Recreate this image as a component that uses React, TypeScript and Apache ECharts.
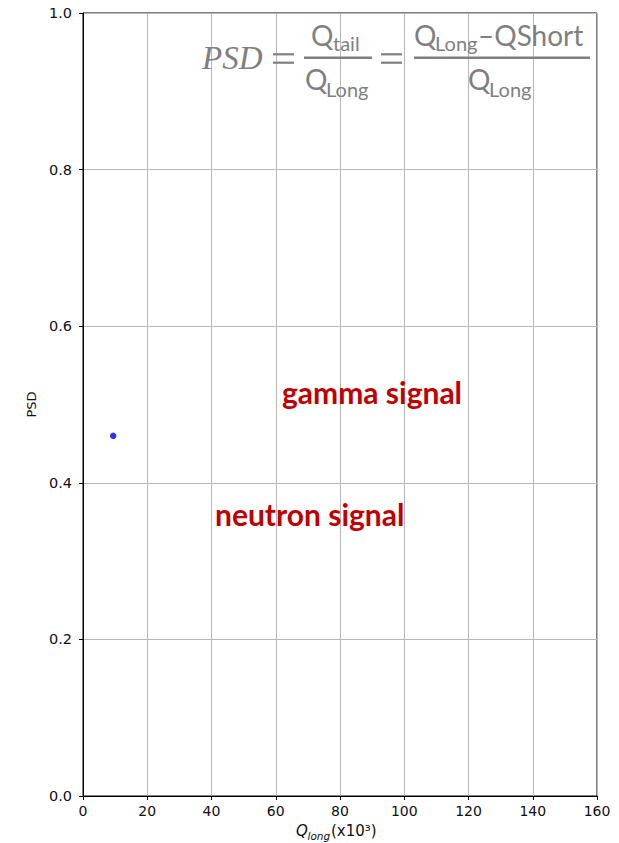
import React, { useEffect, useRef } from "react";
import * as echarts from "echarts";

// ---- data ----
const xRange = [0, 160];
const xStep = 20;
const yRange = [0, 1.0];
const yStep = 0.2;
const pointX = [9.4];
const pointY = [0.46];
const xAxisName = ["Q", "long", "(x10³)"];
const yAxisName = "PSD";
const regionLabels = ["gamma signal", "neutron signal"];
const formulaParts = ["PSD", "Q", "tail", "Long", "–QShort"];

const GRAY = "#7f7f7f";
const RED = "#c00000";
const QF = "Lato";

export default function App() {
  const ref = useRef<HTMLDivElement>(null);
  useEffect(() => {
    document.body.style.margin = "0";
    if (!ref.current) return;
    const chart = echarts.init(ref.current, null, { renderer: "svg" });
    const qText = (text: string, x: number, y: number, size: number) => ({
      type: "text",
      x,
      y,
      z: 10,
      style: {
        text,
        fontFamily: QF,
        fontSize: size,
        fill: GRAY,
        align: "left",
        verticalAlign: "middle",
      },
    });
    const hline = (x1: number, x2: number, y: number, w: number) => ({
      type: "line",
      z: 10,
      shape: { x1, y1: y, x2, y2: y },
      style: { stroke: GRAY, lineWidth: w },
    });
    const QS = 28;
    const SS = 20;
    const numY = 34.6;
    const numSubY = 43.3;
    const denY = 78.6;
    const denSubY = 89;
    chart.setOption({
      animation: false,
      grid: {
        left: 83,
        right: 22,
        top: 13,
        bottom: 47,
        show: true,
        borderColor: "#000",
        borderWidth: 1,
        backgroundColor: "#fff",
      },
      xAxis: {
        type: "value",
        min: xRange[0],
        max: xRange[1],
        interval: xStep,
        axisLine: { show: true, lineStyle: { color: "#000", width: 1 } },
        axisTick: { show: true, length: 4, lineStyle: { color: "#000" } },
        axisLabel: {
          color: "#111",
          fontFamily: "DejaVu Sans",
          fontSize: 14,
          margin: 8,
        },
        splitLine: { show: true, lineStyle: { color: "#b8b8b8", width: 1 } },
      },
      yAxis: {
        type: "value",
        min: yRange[0],
        max: yRange[1],
        interval: yStep,
        name: yAxisName,
        nameLocation: "middle",
        nameGap: 44,
        nameTextStyle: { color: "#111", fontFamily: "DejaVu Sans", fontSize: 13 },
        axisLine: { show: true, lineStyle: { color: "#000", width: 1 } },
        axisTick: { show: true, length: 4, lineStyle: { color: "#000" } },
        axisLabel: {
          color: "#111",
          fontFamily: "DejaVu Sans",
          fontSize: 14.5,
          margin: 11,
          formatter: (v: number) => v.toFixed(1),
        },
        splitLine: { show: true, lineStyle: { color: "#b8b8b8", width: 1 } },
      },
      series: [
        {
          type: "scatter",
          data: pointX.map((x, i) => [x, pointY[i]]),
          symbolSize: 6.5,
          itemStyle: { color: "#0000e0" },
        },
      ],
      graphic: [
        // x axis name
        {
          type: "text",
          x: 296,
          y: 831,
          style: {
            text: xAxisName[0],
            fontFamily: "DejaVu Sans",
            fontStyle: "italic",
            fontSize: 15,
            fill: "#111",
            verticalAlign: "middle",
          },
        },
        {
          type: "text",
          x: 307.5,
          y: 835.5,
          style: {
            text: xAxisName[1],
            fontFamily: "DejaVu Sans",
            fontStyle: "italic",
            fontSize: 10.5,
            fill: "#111",
            verticalAlign: "middle",
          },
        },
        {
          type: "text",
          x: 331,
          y: 831,
          style: {
            text: xAxisName[2],
            fontFamily: "DejaVu Sans",
            fontSize: 15,
            fill: "#111",
            verticalAlign: "middle",
          },
        },
        // region labels
        {
          type: "text",
          x: 282,
          y: 391.5,
          z: 10,
          style: {
            text: regionLabels[0],
            fontFamily: "Lato",
            fontWeight: "bold",
            fontSize: 30,
            fill: RED,
            verticalAlign: "middle",
          },
        },
        {
          type: "text",
          x: 215,
          y: 513.5,
          z: 10,
          style: {
            text: regionLabels[1],
            fontFamily: "Lato",
            fontWeight: "bold",
            fontSize: 30,
            fill: RED,
            verticalAlign: "middle",
          },
        },
        // formula
        {
          type: "text",
          x: 202,
          y: 58,
          z: 10,
          style: {
            text: formulaParts[0],
            fontFamily: "Liberation Serif",
            fontStyle: "italic",
            fontSize: 33,
            fill: GRAY,
            verticalAlign: "middle",
          },
        },
        hline(273, 294, 54.3, 2.2),
        hline(273, 294, 62.7, 2.2),
        hline(381, 402, 54.3, 2.2),
        hline(381, 402, 62.7, 2.2),
        hline(304, 372, 57.7, 2.6),
        hline(414, 590, 57.7, 2.6),
        qText(formulaParts[1], 311, numY, QS),
        qText(formulaParts[2], 333, numSubY, SS),
        qText(formulaParts[1], 305, denY, QS),
        qText(formulaParts[3], 326, denSubY, SS),
        qText(formulaParts[1], 414, numY, QS),
        qText(formulaParts[3], 435, numSubY, SS),
        qText(formulaParts[4], 478, numY, QS),
        qText(formulaParts[1], 468, denY, QS),
        qText(formulaParts[3], 489, denSubY, SS),
      ],
    });
    return () => chart.dispose();
  }, []);
  return <div ref={ref} style={{ width: 619, height: 843 }} />;
}
